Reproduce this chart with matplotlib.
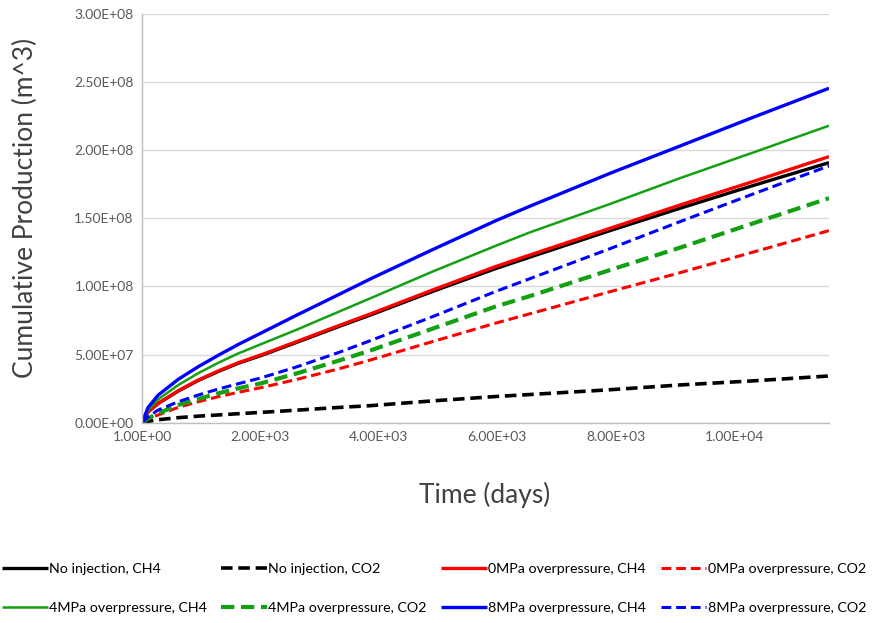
import matplotlib
matplotlib.use("Agg")
import matplotlib.pyplot as plt

plt.rcParams['font.family'] = ['Lato', 'DejaVu Sans']

# time (days)
days = [1, 105, 275, 615, 950, 1290, 1625, 2020, 2615, 3320, 3855, 4905, 5965, 6555, 7905, 9085, 10350, 11600]

# cumulative production, in units of 1e7 m^3
noinj_ch4 = [0, 0.80, 1.41, 2.33, 3.10, 3.76, 4.36, 4.94, 5.90, 7.05, 7.90, 9.63, 11.30, 12.16, 14.10, 15.74, 17.45, 19.09]
noinj_co2 = [0, 0.10, 0.22, 0.37, 0.48, 0.57, 0.66, 0.76, 0.92, 1.12, 1.25, 1.60, 1.92, 2.07, 2.42, 2.77, 3.08, 3.43]
p0_ch4 = [0, 0.81, 1.42, 2.35, 3.13, 3.80, 4.40, 4.99, 5.96, 7.12, 7.98, 9.74, 11.45, 12.32, 14.27, 15.98, 17.75, 19.53]
p0_co2 = [0, 0.27, 0.57, 1.13, 1.54, 1.91, 2.23, 2.58, 3.18, 3.95, 4.60, 5.95, 7.30, 8.00, 9.62, 11.01, 12.56, 14.10]
p4_ch4 = [0, 0.93, 1.72, 2.77, 3.63, 4.40, 5.08, 5.78, 6.83, 8.14, 9.13, 11.09, 12.97, 13.98, 16.06, 17.95, 19.88, 21.80]
p4_co2 = [0, 0.32, 0.69, 1.30, 1.74, 2.16, 2.52, 2.90, 3.62, 4.55, 5.30, 6.90, 8.52, 9.30, 11.21, 12.85, 14.68, 16.48]
p8_ch4 = [0, 1.13, 2.03, 3.19, 4.11, 4.95, 5.74, 6.60, 7.90, 9.40, 10.55, 12.70, 14.81, 15.90, 18.31, 20.31, 22.47, 24.55]
p8_co2 = [0, 0.44, 0.93, 1.54, 2.03, 2.47, 2.86, 3.30, 4.10, 5.15, 6.02, 7.78, 9.62, 10.58, 12.78, 14.76, 16.84, 18.85]

series = [
    ("No injection, CH4", noinj_ch4, "black", "-", 2.4),
    ("No injection, CO2", noinj_co2, "black", "--", 2.6),
    ("0MPa overpressure, CH4", p0_ch4, "#ff0000", "-", 2.4),
    ("0MPa overpressure, CO2", p0_co2, "#ff0000", "--", 2.2),
    ("4MPa overpressure, CH4", p4_ch4, "#13a013", "-", 1.8),
    ("4MPa overpressure, CO2", p4_co2, "#13a013", "--", 3.0),
    ("8MPa overpressure, CH4", p8_ch4, "#0000ff", "-", 2.4),
    ("8MPa overpressure, CO2", p8_co2, "#0000ff", "--", 2.2),
]

fig = plt.figure(figsize=(8.74, 6.23), dpi=100)
ax = fig.add_axes([142 / 874, 1 - 422.7 / 623, 687 / 874, 408.7 / 623])

handles = {}
for label, vals, color, ls, lw in series:
    y = [v * 1e7 for v in vals]
    line, = ax.plot(days, y, color=color, linestyle=ls, linewidth=lw, label=label,
                    solid_capstyle='butt', dash_capstyle='butt', solid_joinstyle='round')
    if ls == "--":
        line.set_dashes((3.2, 1.6))
    handles[label] = line

ax.set_xlim(1, 11600)
ax.set_ylim(0, 3e8)
ax.set_xticks([1, 2000, 4000, 6000, 8000, 10000])
ax.set_yticks([i * 5e7 for i in range(7)])
ax.xaxis.set_major_formatter(lambda v, p: "{:.2E}".format(v))
ax.yaxis.set_major_formatter(lambda v, p: "{:.2E}".format(v))
ax.tick_params(length=0, labelsize=10, colors="#595959", pad=6)

ax.grid(axis='y', color="#d9d9d9", linewidth=1)
ax.set_axisbelow(True)
for s in ["top", "right"]:
    ax.spines[s].set_visible(False)
for s in ["left", "bottom"]:
    ax.spines[s].set_color("#bfbfbf")
    ax.spines[s].set_linewidth(1)

fig.text(25 / 874, 1 - 208 / 623, "Cumulative Production (m^3)", rotation=90,
         ha="center", va="center", fontsize=19, color="#404040")
fig.text(485 / 874, 1 - 495 / 623, "Time (days)", ha="center", va="center",
         fontsize=19, color="#404040")

order = ["No injection, CH4", "4MPa overpressure, CH4",
         "No injection, CO2", "4MPa overpressure, CO2",
         "0MPa overpressure, CH4", "8MPa overpressure, CH4",
         "0MPa overpressure, CO2", "8MPa overpressure, CO2"]
fig.legend([handles[k] for k in order], order, ncol=4, loc="upper left",
           bbox_to_anchor=(0.002, 1 - 563 / 623), frameon=False, fontsize=10.3,
           handlelength=3.2, handletextpad=0.1, columnspacing=1.0,
           labelspacing=1.9, borderpad=0, borderaxespad=0)

fig.savefig("out.png", dpi=100)
